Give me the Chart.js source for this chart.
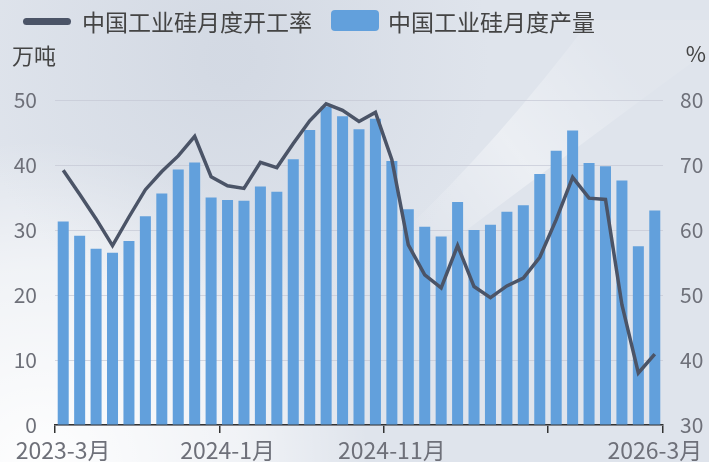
<!DOCTYPE html>
<html>
<head>
<meta charset="utf-8">
<script src="https://cdn.jsdelivr.net/npm/chart.js@4/dist/chart.umd.min.js"></script>
<style>
  html, body { margin: 0; padding: 0; background: #e2e6ed; }
  #wrap { width: 709px; height: 462px; }
</style>
</head>
<body>
<div id="wrap"><canvas id="grafico" width="709" height="462"></canvas></div>
<script>
const meses = [
    '2023-3月', '2023-4月', '2023-5月', '2023-6月', '2023-7月', '2023-8月', '2023-9月', '2023-10月', '2023-11月', '2023-12月',
    '2024-1月', '2024-2月', '2024-3月', '2024-4月', '2024-5月', '2024-6月', '2024-7月', '2024-8月', '2024-9月', '2024-10月',
    '2024-11月', '2024-12月', '2025-1月', '2025-2月', '2025-3月', '2025-4月', '2025-5月', '2025-6月', '2025-7月', '2025-8月',
    '2025-9月', '2025-10月', '2025-11月', '2025-12月', '2026-1月', '2026-2月', '2026-3月'
];
// 万吨
const produccion = [
    31.3, 29.1, 27.1, 26.5, 28.3, 32.1, 35.6, 39.3, 40.4, 35.0,
    34.6, 34.5, 36.7, 35.9, 40.9, 45.4, 49.0, 47.5, 45.5, 47.1,
    40.6, 33.2, 30.5, 29.0, 34.3, 30.0, 30.8, 32.8, 33.8, 38.6,
    42.2, 45.3, 40.3, 39.8, 37.6, 27.5, 33.0
];
// %
const tasa = [
    69.2, 65.5, 61.7, 57.6, 62.0, 66.2, 69.0, 71.4, 74.4, 68.2,
    66.8, 66.4, 70.4, 69.6, 73.3, 76.8, 79.4, 78.4, 76.7, 78.1,
    70.8, 57.7, 53.1, 51.1, 57.6, 51.3, 49.6, 51.4, 52.6, 55.8,
    61.6, 68.1, 64.9, 64.7, 48.5, 38.0, 40.9
];
const ticksIzq = [0, 10, 20, 30, 40, 50];
const ticksDer = [30, 40, 50, 60, 70, 80];
const etiquetasVisibles = ['2023-3月', '2024-1月', '2024-11月', '2026-3月'];
const marcasX = [0, 10, 20, 30];

const FUENTE = '"Noto Sans CJK SC", "Noto Sans", sans-serif';
const COLOR_BARRA = '#62a0dc';
const COLOR_LINEA = '#4b5467';

const fondo = {
    id: 'fondo',
    beforeDraw(chart) {
        const c = chart.ctx;
        const w = chart.width, h = chart.height;
        c.save();
        c.fillStyle = '#dfe4ec';
        c.fillRect(0, 0, w, h);
        // zona clara abajo a la izquierda
        let g = c.createRadialGradient(40, 470, 10, 40, 470, 330);
        g.addColorStop(0, 'rgba(255,255,255,0.95)');
        g.addColorStop(0.6, 'rgba(255,255,255,0.55)');
        g.addColorStop(1, 'rgba(255,255,255,0)');
        c.fillStyle = g;
        c.fillRect(0, 0, w, h);
        // trazo claro arriba a la derecha
        g = c.createLinearGradient(400, 230, 620, 60);
        g.addColorStop(0, 'rgba(255,255,255,0)');
        g.addColorStop(0.5, 'rgba(255,255,255,0.4)');
        g.addColorStop(1, 'rgba(255,255,255,0.08)');
        c.fillStyle = g;
        c.beginPath();
        c.moveTo(590, 20);
        c.quadraticCurveTo(500, 140, 400, 235);
        c.lineTo(460, 235);
        c.quadraticCurveTo(600, 130, 709, 50);
        c.lineTo(709, 20);
        c.closePath();
        c.fill();
        // zona algo mas oscura arriba a la izquierda
        g = c.createRadialGradient(230, 60, 20, 230, 60, 260);
        g.addColorStop(0, 'rgba(190,198,212,0.35)');
        g.addColorStop(1, 'rgba(190,198,212,0)');
        c.fillStyle = g;
        c.fillRect(0, 0, w, h);
        c.restore();
    }
};

const leyenda = {
    id: 'leyenda',
    afterDraw(chart) {
        const c = chart.ctx;
        c.save();
        c.font = '23px ' + FUENTE;
        c.textBaseline = 'middle';
        c.fillStyle = COLOR_LINEA;
        c.beginPath();
        c.roundRect(23, 18, 48, 7, 3.5);
        c.fill();
        c.fillStyle = '#444';
        c.fillText(chart.data.datasets[0].label, 82, 22);
        c.fillStyle = COLOR_BARRA;
        c.beginPath();
        c.roundRect(331, 10, 48, 21, 4);
        c.fill();
        c.fillStyle = '#444';
        c.fillText(chart.data.datasets[1].label, 388, 22);
        // unidades
        c.font = '22px ' + FUENTE;
        c.fillStyle = '#444';
        c.textAlign = 'left';
        c.fillText('万吨', 12, 56);
        c.textAlign = 'right';
        c.fillText('%', 706, 54);
        c.restore();
    }
};

const ctx = document.getElementById('grafico').getContext('2d');
window.miGrafico = new Chart(ctx, {
    data: {
        labels: meses,
        datasets: [{
            type: 'line',
            label: '中国工业硅月度开工率',
            data: tasa,
            yAxisID: 'yDer',
            borderColor: COLOR_LINEA,
            borderWidth: 3.5,
            pointRadius: 0,
            tension: 0,
            order: 0
        }, {
            type: 'bar',
            label: '中国工业硅月度产量',
            data: produccion,
            yAxisID: 'yIzq',
            backgroundColor: COLOR_BARRA,
            borderWidth: 0,
            barPercentage: 0.67,
            categoryPercentage: 1,
            order: 1
        }]
    },
    options: {
        responsive: false,
        animation: false,
        layout: { padding: { top: 100 } },
        plugins: {
            legend: { display: false },
            tooltip: { enabled: false }
        },
        scales: {
            x: {
                offset: true,
                grid: {
                    offset: true,
                    drawOnChartArea: false,
                    drawTicks: true,
                    tickLength: 8,
                    lineWidth: 1.5,
                    color: (c) => (c.index === undefined || marcasX.includes(c.index)) ? '#333' : 'rgba(0,0,0,0)'
                },
                border: { display: true, color: '#333', width: 1.5 },
                ticks: {
                    autoSkip: false,
                    maxRotation: 0,
                    padding: 3,
                    color: '#6e7079',
                    font: { size: 23, family: FUENTE },
                    callback: (v, i) => etiquetasVisibles.includes(meses[i]) ? meses[i] : ''
                },
                afterFit: (s) => { s.height = 37; }
            },
            yIzq: {
                position: 'left',
                min: ticksIzq[0],
                max: ticksIzq[ticksIzq.length - 1],
                afterBuildTicks: (s) => { s.ticks = ticksIzq.map(v => ({ value: v })); },
                grid: { color: 'rgba(196,200,212,0.7)', lineWidth: 1, drawTicks: false },
                border: { display: false },
                ticks: { padding: 18, color: '#6e7079', font: { size: 21, family: FUENTE } },
                afterFit: (s) => { s.width = 55; }
            },
            yDer: {
                position: 'right',
                min: ticksDer[0],
                max: ticksDer[ticksDer.length - 1],
                afterBuildTicks: (s) => { s.ticks = ticksDer.map(v => ({ value: v })); },
                grid: { drawOnChartArea: false, drawTicks: false },
                border: { display: false },
                ticks: { padding: 17, color: '#6e7079', font: { size: 21, family: FUENTE } },
                afterFit: (s) => { s.width = 46; }
            }
        }
    },
    plugins: [fondo, leyenda]
});
</script>
</body>
</html>
